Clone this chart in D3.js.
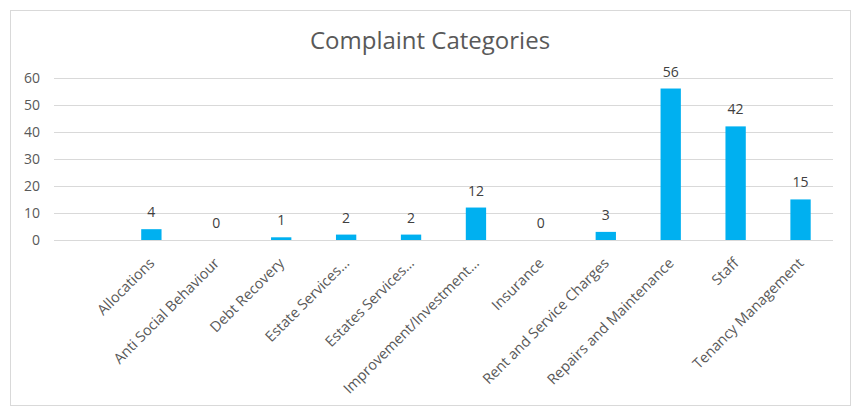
<!DOCTYPE html>
<html>
<head>
<meta charset="utf-8">
<script src="https://cdn.jsdelivr.net/npm/d3@7"></script>
<style>
  body { margin: 0; background: #fff; }
  text { font-family: "Open Sans", "Liberation Sans", Arial, sans-serif; }
</style>
</head>
<body>
<svg id="chart"></svg>
<script>
// first slot is an unnamed category with no value
let categories = ['', 'Allocations', 'Anti Social Behaviour', 'Debt Recovery',
  'Estate Services…', 'Estates Services…', 'Improvement/Investment…', 'Insurance',
  'Rent and Service Charges', 'Repairs and Maintenance', 'Staff', 'Tenancy Management'];
let counts = [null, 4, 0, 1, 2, 2, 12, 0, 3, 56, 42, 15];
let yTicks = [0, 10, 20, 30, 40, 50, 60];
let title = 'Complaint Categories';

let w = 857, h = 419;
let font = '"Open Sans", "Liberation Sans", Arial, sans-serif';
let svg = d3.select('#chart').attr('width', w).attr('height', h);

// outer chart frame
svg.append('rect')
  .attr('x', 10.5).attr('y', 10.5)
  .attr('width', 840).attr('height', 395)
  .attr('fill', '#fff')
  .attr('stroke', '#d9d9d9');

svg.append('text')
  .attr('x', 430).attr('y', 49)
  .attr('text-anchor', 'middle')
  .attr('font-size', '24px')
  .attr('fill', '#595959')
  .text(title);

let data = categories.map((c, i) => ({ name: c, value: counts[i], key: i }));

let xScale = d3.scaleBand()
  .domain(data.map((d) => d.key))
  .range([54, 833])
  .paddingInner(0.687)
  .paddingOuter(0.3435);

let yScale = d3.scaleLinear()
  .domain([0, 60])
  .range([240, 77.7]);

// gridlines
svg.append('g')
  .selectAll('line')
  .data(yTicks)
  .enter()
  .append('line')
  .attr('x1', 54).attr('x2', 833)
  .attr('y1', (d) => Math.round(yScale(d)) + 0.5)
  .attr('y2', (d) => Math.round(yScale(d)) + 0.5)
  .attr('stroke', '#d9d9d9');

// y axis labels
let yAxis = svg.append('g')
  .attr('transform', 'translate(40,0)')
  .call(d3.axisLeft(yScale).tickValues(yTicks).tickSize(0).tickPadding(0));
yAxis.select('.domain').remove();
yAxis.selectAll('text')
  .attr('font-size', '14px')
  .attr('font-family', font)
  .attr('fill', '#595959');

let withValue = data.filter((d) => d.value !== null);

svg.append('g')
  .selectAll('rect')
  .data(withValue)
  .enter()
  .append('rect')
  .attr('x', (d) => xScale(d.key))
  .attr('y', (d) => yScale(d.value))
  .attr('width', xScale.bandwidth())
  .attr('height', (d) => yScale(0) - yScale(d.value))
  .attr('fill', '#00b0f0');

// value labels
svg.append('g')
  .selectAll('text')
  .data(withValue)
  .enter()
  .append('text')
  .attr('text-anchor', 'middle')
  .attr('font-size', '14px')
  .attr('fill', '#404040')
  .attr('x', (d) => xScale(d.key) + xScale.bandwidth() / 2)
  .attr('y', (d) => yScale(d.value) - 12)
  .text((d) => d.value);

// x axis labels, rotated
let xAxis = svg.append('g')
  .attr('transform', 'translate(0,240)')
  .call(d3.axisBottom(xScale).tickSize(0).tickFormat((k) => categories[k]));
xAxis.select('.domain').remove();
xAxis.selectAll('text')
  .attr('font-size', '14.5px')
  .attr('font-family', font)
  .attr('fill', '#595959')
  .attr('text-anchor', 'end')
  .attr('transform', 'translate(4,24) rotate(-45)')
  .attr('dy', 0)
  .attr('y', 0)
  .attr('x', 0);
</script>
</body>
</html>
